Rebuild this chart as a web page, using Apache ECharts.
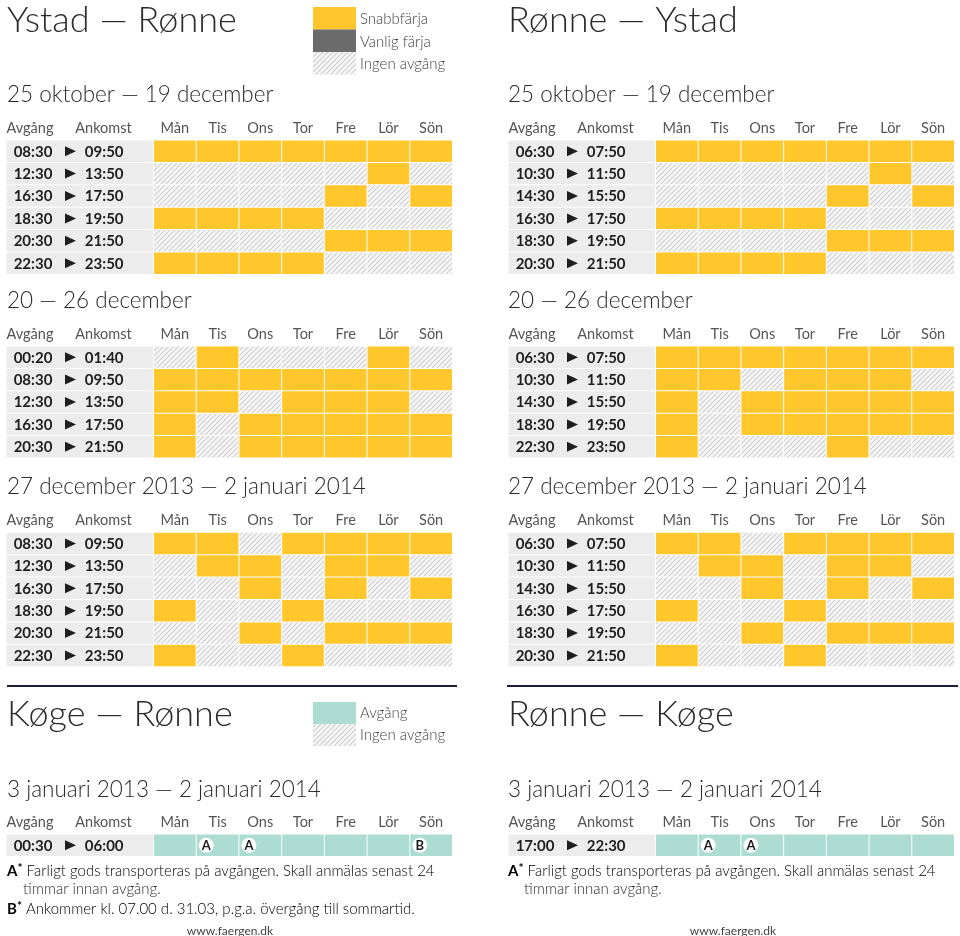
<!DOCTYPE html>
<html><head><meta charset="utf-8">
<script src="https://cdn.jsdelivr.net/npm/echarts@6/dist/echarts.min.js"></script>
<style>html,body{margin:0;padding:0;background:#fff}#c{width:960px;height:936px}</style>
</head><body><div id="c"></div>
<script>
// ---------- data ----------
const days = ['Mån','Tis','Ons','Tor','Fre','Lör','Sön'];

// Ystad — Rønne
const yr1Dep = ['08:30','12:30','16:30','18:30','20:30','22:30'];
const yr1Arr = ['09:50','13:50','17:50','19:50','21:50','23:50'];
const yr1Val = [[1,1,1,1,1,1,1],[0,0,0,0,0,1,0],[0,0,0,0,1,0,1],[1,1,1,1,0,0,0],[0,0,0,0,1,1,1],[1,1,1,1,0,0,0]];
const yr2Dep = ['00:20','08:30','12:30','16:30','20:30'];
const yr2Arr = ['01:40','09:50','13:50','17:50','21:50'];
const yr2Val = [[0,1,0,0,0,1,0],[1,1,1,1,1,1,1],[1,1,0,1,1,1,0],[1,0,1,1,1,1,1],[1,0,1,1,1,1,1]];
const yr3Dep = ['08:30','12:30','16:30','18:30','20:30','22:30'];
const yr3Arr = ['09:50','13:50','17:50','19:50','21:50','23:50'];
const yr3Val = [[1,1,0,1,1,1,1],[0,1,1,0,1,1,0],[0,0,1,0,1,0,1],[1,0,0,1,0,0,0],[0,0,1,0,1,1,1],[1,0,0,1,0,0,0]];

// Rønne — Ystad
const ry1Dep = ['06:30','10:30','14:30','16:30','18:30','20:30'];
const ry1Arr = ['07:50','11:50','15:50','17:50','19:50','21:50'];
const ry1Val = [[1,1,1,1,1,1,1],[0,0,0,0,0,1,0],[0,0,0,0,1,0,1],[1,1,1,1,0,0,0],[0,0,0,0,1,1,1],[1,1,1,1,0,0,0]];
const ry2Dep = ['06:30','10:30','14:30','18:30','22:30'];
const ry2Arr = ['07:50','11:50','15:50','19:50','23:50'];
const ry2Val = [[1,1,1,1,1,1,1],[1,1,0,1,1,1,0],[1,0,1,1,1,1,1],[1,0,1,1,1,1,1],[1,0,0,0,1,0,0]];
const ry3Dep = ['06:30','10:30','14:30','16:30','18:30','20:30'];
const ry3Arr = ['07:50','11:50','15:50','17:50','19:50','21:50'];
const ry3Val = [[1,1,0,1,1,1,1],[0,1,1,0,1,1,0],[0,0,1,0,1,0,1],[1,0,0,1,0,0,0],[0,0,1,0,1,1,1],[1,0,0,1,0,0,0]];

// Køge — Rønne / Rønne — Køge
const krDep = ['00:30'];
const krArr = ['06:00'];
const krVal = [[1,1,1,1,1,1,1]];
const krNotes = ['','A','A','','','','B'];
const rkDep = ['17:00'];
const rkArr = ['22:30'];
const rkVal = [[1,1,1,1,1,1,1]];
const rkNotes = ['','A','A','','','',''];

// ---------- style ----------
const FONT = 'Lato, "Noto Sans", sans-serif';
const YELLOW = '#FFC72C', TEAL = '#ADDCD2', DARKGRAY = '#6b6b6b', ROWBG = '#ececec';
const TXT = '#2b2b2b', HEAD = '#555555';

const P = 5;
const pc = document.createElement('canvas');
pc.width = P; pc.height = P;
const px = pc.getContext('2d');
px.fillStyle = '#f6f6f6'; px.fillRect(0,0,P,P);
px.strokeStyle = '#cfcfcf'; px.lineWidth = 1.1;
px.beginPath();
px.moveTo(-1,P+1); px.lineTo(P+1,-1);
px.moveTo(-1,1); px.lineTo(1,-1);
px.moveTo(P-1,P+1); px.lineTo(P+1,P-1);
px.stroke();
const HATCH = {image: pc, repeat: 'repeat'};

const ROWH = 22.4;
const COLS = [153.5, 655.5];
const tables = [
  {dep: yr1Dep, arr: yr1Arr, val: yr1Val, col: 0, top: 140, fill: YELLOW},
  {dep: yr2Dep, arr: yr2Arr, val: yr2Val, col: 0, top: 346, fill: YELLOW},
  {dep: yr3Dep, arr: yr3Arr, val: yr3Val, col: 0, top: 532.3, fill: YELLOW},
  {dep: krDep, arr: krArr, val: krVal, notes: krNotes, col: 0, top: 834, fill: TEAL},
  {dep: ry1Dep, arr: ry1Arr, val: ry1Val, col: 1, top: 140, fill: YELLOW},
  {dep: ry2Dep, arr: ry2Arr, val: ry2Val, col: 1, top: 346, fill: YELLOW},
  {dep: ry3Dep, arr: ry3Arr, val: ry3Val, col: 1, top: 532.3, fill: YELLOW},
  {dep: rkDep, arr: rkArr, val: rkVal, notes: rkNotes, col: 1, top: 834, fill: TEAL}
];

const grid = [], xAxis = [], yAxis = [], series = [], graphic = [];

tables.forEach((t, i) => {
  grid.push({left: COLS[t.col], top: t.top, width: 299, height: ROWH * t.dep.length});
  xAxis.push({type: 'category', gridIndex: i, data: days, position: 'top',
    axisLine: {show: false}, axisTick: {show: false}, splitLine: {show: false},
    axisLabel: {color: HEAD, fontSize: 14.5, fontFamily: FONT, margin: 12, verticalAlign: 'middle'}});
  yAxis.push({type: 'category', gridIndex: i, data: t.dep, inverse: true, show: false});

  // day cells
  const data = [];
  t.val.forEach((row, r) => row.forEach((v, d) => data.push([d, r, v, t.notes ? t.notes[d] : ''])));
  series.push({type: 'custom', xAxisIndex: i, yAxisIndex: i, silent: true, data,
    dimensions: ['d','r','v','n'],
    renderItem(params, api) {
      const d = api.value(0), r = api.value(1), v = api.value(2);
      const note = data[params.dataIndex][3];
      const c = api.coord([d, r]);
      const s = api.size([1, 1]);
      const x0 = c[0] - s[0] / 2 + 0.5, y0 = c[1] - s[1] / 2 + 0.5;
      const children = [{type: 'rect', shape: {x: x0, y: y0, width: s[0] - 1, height: s[1] - 1},
        style: {fill: v ? t.fill : HATCH}}];
      if (note) {
        children.push({type: 'circle', shape: {cx: x0 + 9.5, cy: c[1], r: 7.5}, style: {fill: '#fff'}});
        children.push({type: 'text', x: x0 + 9.5, y: c[1] + 0.5, style: {text: note, fill: '#1a1a1a',
          font: 'bold 13px ' + FONT, align: 'center', verticalAlign: 'middle'}});
      }
      return {type: 'group', children};
    }});

  // time column
  series.push({type: 'custom', xAxisIndex: i, yAxisIndex: i, silent: true, clip: false,
    data: t.dep.map((_, r) => [0, r]),
    renderItem(params, api) {
      const r = api.value(1);
      const c = api.coord([0, r]);
      const s = api.size([1, 1]);
      const gx = params.coordSys.x;
      const y0 = c[1] - s[1] / 2 + 0.5;
      const ax = gx - 83.5, ay = c[1];
      return {type: 'group', children: [
        {type: 'rect', shape: {x: gx - 147, y: y0, width: 146.5, height: s[1] - 1}, style: {fill: ROWBG}},
        {type: 'text', x: gx - 120.5, y: ay + 0.5, style: {text: t.dep[r], fill: '#1e1e1e',
          font: 'bold 15px ' + FONT, align: 'center', verticalAlign: 'middle'}},
        {type: 'polygon', shape: {points: [[ax - 5, ay - 5], [ax + 6, ay], [ax - 5, ay + 5]]}, style: {fill: '#1e1e1e'}},
        {type: 'text', x: gx - 49.3, y: ay + 0.5, style: {text: t.arr[r], fill: '#1e1e1e',
          font: 'bold 15px ' + FONT, align: 'center', verticalAlign: 'middle'}}
      ]};
    }});

  // Avgång / Ankomst header
  const hy = t.top - 12;
  graphic.push({type: 'text', x: COLS[t.col] - 123.5, y: hy, style: {text: 'Avgång', fill: HEAD,
    font: '14.5px ' + FONT, align: 'center', verticalAlign: 'middle'}});
  graphic.push({type: 'text', x: COLS[t.col] - 50, y: hy, style: {text: 'Ankomst', fill: HEAD,
    font: '14.5px ' + FONT, align: 'center', verticalAlign: 'middle'}});
});

function txt(x, y, text, size, opts) {
  opts = opts || {};
  graphic.push({type: 'text', x, y, style: {text, fill: opts.fill || TXT,
    font: (opts.weight || '300') + ' ' + size + 'px ' + FONT, align: opts.align || 'left', verticalAlign: 'middle'}});
}

const XL = 7, XR = 508;
// titles
txt(XL, 20, 'Ystad — Rønne', 36);
txt(XR, 20, 'Rønne — Ystad', 36);
txt(XL, 714, 'Køge — Rønne', 36);
txt(XR, 714, 'Rønne — Køge', 36);
// period subtitles
[[95, '25 oktober — 19 december'], [301, '20 — 26 december'], [487, '27 december 2013 — 2 januari 2014'],
 [790, '3 januari 2013 — 2 januari 2014']].forEach(([y, s]) => { txt(XL, y, s, 22.5); txt(XR, y, s, 22.5); });

// top legend
graphic.push({type: 'rect', shape: {x: 313, y: 7, width: 43, height: 22.5}, style: {fill: YELLOW}});
graphic.push({type: 'rect', shape: {x: 313, y: 29.5, width: 43, height: 22.5}, style: {fill: DARKGRAY}});
graphic.push({type: 'rect', shape: {x: 313, y: 52, width: 43, height: 22.5}, style: {fill: HATCH}});
txt(360, 19, 'Snabbfärja', 15, {fill: '#444'});
txt(360, 42, 'Vanlig färja', 15, {fill: '#444'});
txt(360, 64, 'Ingen avgång', 15, {fill: '#444'});
// bottom legend
graphic.push({type: 'rect', shape: {x: 313, y: 702, width: 43, height: 22}, style: {fill: TEAL}});
graphic.push({type: 'rect', shape: {x: 313, y: 724, width: 43, height: 22}, style: {fill: HATCH}});
txt(360, 713, 'Avgång', 15, {fill: '#444'});
txt(360, 735, 'Ingen avgång', 15, {fill: '#444'});

// separators
graphic.push({type: 'line', shape: {x1: 7, y1: 686, x2: 457, y2: 686}, style: {stroke: '#1c1f3b', lineWidth: 2}});
graphic.push({type: 'line', shape: {x1: 507, y1: 686, x2: 958, y2: 686}, style: {stroke: '#1c1f3b', lineWidth: 2}});

// footnotes
const noteRich = {b: {fontFamily: FONT, fontWeight: 'bold', fontSize: 15, color: '#222'},
  s: {fontFamily: FONT, fontWeight: 'bold', fontSize: 12, verticalAlign: 'top', color: '#222', padding: [0, 0, 5, 0]},
  t: {fontFamily: FONT, fontWeight: '300', fontSize: 15, color: '#2a2a2a'}};
function note(x, y, letter, text) {
  graphic.push({type: 'text', x, y, style: {text: '{b|' + letter + '}{s|*}{t| ' + text + '}', rich: noteRich,
    verticalAlign: 'middle', align: 'left'}});
}
note(XL, 871, 'A', 'Farligt gods transporteras på avgången. Skall anmälas senast 24');
txt(XL + 16, 889, 'timmar innan avgång.', 15, {fill: '#2a2a2a'});
note(XL, 909, 'B', 'Ankommer kl. 07.00 d. 31.03, p.g.a. övergång till sommartid.');
note(XR, 871, 'A', 'Farligt gods transporteras på avgången. Skall anmälas senast 24');
txt(XR + 16, 889, 'timmar innan avgång.', 15, {fill: '#2a2a2a'});
txt(230, 931, 'www.faergen.dk', 12, {fill: '#444', weight: 'normal', align: 'center'});
txt(733, 931, 'www.faergen.dk', 12, {fill: '#444', weight: 'normal', align: 'center'});

const chart = echarts.init(document.getElementById('c'), null, {renderer: 'canvas'});
chart.setOption({animation: false, backgroundColor: '#fff', grid, xAxis, yAxis, series, graphic});
</script></body></html>
